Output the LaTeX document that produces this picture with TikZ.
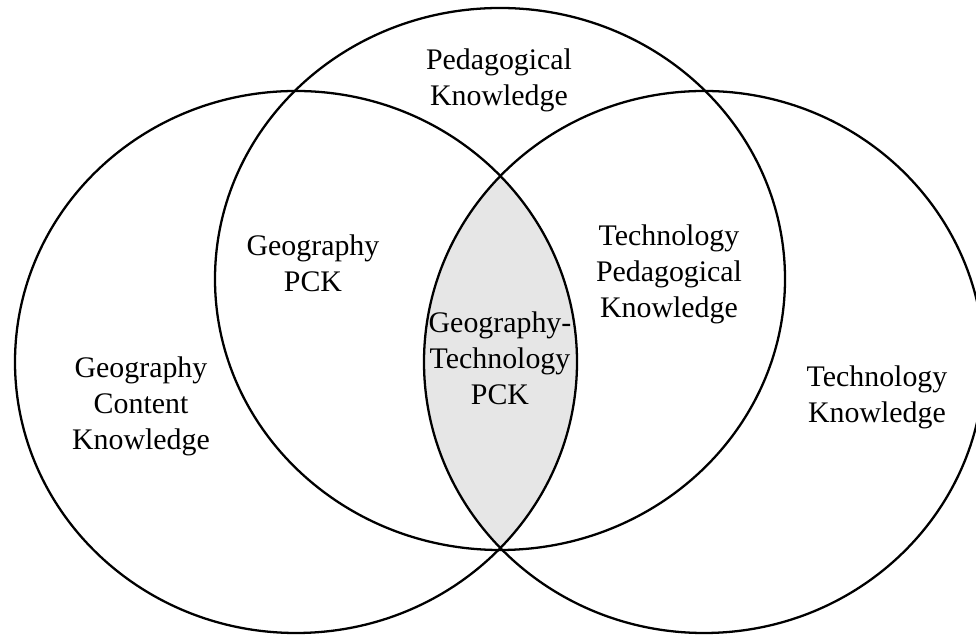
\documentclass[tikz,border=0pt]{standalone}
\usepackage{fontspec}
\setmainfont{Liberation Serif}
\usetikzlibrary{positioning}
\definecolor{lensGrey}{HTML}{E6E6E6}
\tikzset{
  % three overlapping knowledge domains
  every picture/.append style = {line width=1.3pt},
  ring/.style    = {draw=black, line width=1.3pt},
  lbl/.style     = {font=\fontsize{17}{20.5}\selectfont, align=center, inner sep=0pt},
}

\begin{document}
\begin{tikzpicture}[x=1cm,y=1cm]
  \useasboundingbox (0,0) rectangle (19.52,12.74);
  % shared part of content and technology
  \begin{scope}
    \clip (5.92,5.50) ellipse [x radius=5.62, y radius=5.42];
    \fill[lensGrey] (14.08,5.50) ellipse [x radius=5.60, y radius=5.42];
  \end{scope}
  % the three circles
  \draw[ring] (5.92,5.50) ellipse [x radius=5.62, y radius=5.42];
  \draw[ring] (10.00,7.16) ellipse [x radius=5.70, y radius=5.42];
  \draw[ring] (14.08,5.50) ellipse [x radius=5.60, y radius=5.42];
  % labels
  \node[lbl] (ped)    at (9.98,11.14) {Pedagogical\\Knowledge};
  \node[lbl] (geopck) at (6.26,7.48)  {Geography\\PCK};
  \node[lbl] (tpk)    at (13.38,7.26) {Technology\\Pedagogical\\Knowledge};
  \node[lbl] (gck)    at (2.82,4.62)  {Geography\\Content\\Knowledge};
  \node[lbl] (tk)     at (17.54,4.80) {Technology\\Knowledge};
  \node[lbl] (gtpck)  at (10.00,5.58) {Geography-\\Technology\\PCK};
\end{tikzpicture}
\end{document}
